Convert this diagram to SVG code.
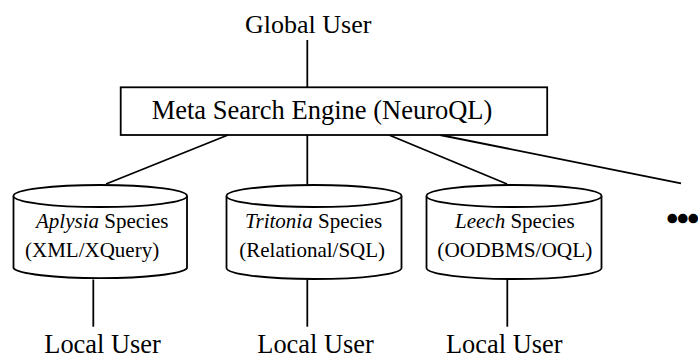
<svg xmlns="http://www.w3.org/2000/svg" width="698" height="358" viewBox="0 0 698 358">
  <style>
    .txt { font-family: "Liberation Serif", "Times New Roman", serif; fill: #000; }
    .big { font-size: 26px; }
    .small { font-size: 21px; }
    .it { font-style: italic; }
    .shape { fill: #fff; stroke: #000; stroke-width: 1.8; }
    .wire { stroke: #000; stroke-width: 1.8; fill: none; }
  </style>
  <rect width="698" height="358" fill="#fff"/>

  <!-- connectors -->
  <g id="connectors" class="wire">
    <line x1="307.3" y1="40" x2="307.3" y2="87.3"/>
    <line x1="228" y1="135" x2="106" y2="184"/>
    <line x1="307.3" y1="135" x2="307.3" y2="184.5"/>
    <line x1="389" y1="135" x2="507" y2="184"/>
    <line x1="440" y1="135" x2="681" y2="183.3"/>
    <line x1="93.3" y1="279.5" x2="93.3" y2="326.7"/>
    <line x1="307.3" y1="279.5" x2="307.3" y2="326.7"/>
    <line x1="507.3" y1="279.5" x2="507.3" y2="326.7"/>
  </g>

  <g id="global-user">
    <text class="txt big" x="245" y="33.3">Global User</text>
  </g>

  <g id="meta-search-engine">
    <rect class="shape" x="120.7" y="87.3" width="426.5" height="47.7"/>
    <text class="txt big" x="151.7" y="119.3" style="font-size:26.5px">Meta Search Engine (NeuroQL)</text>
  </g>

  <g id="db-aplysia">
    <path class="shape" d="M13.5,196 V268 A87,11 0 0 0 187,268 V196"/>
    <ellipse class="shape" cx="100.25" cy="196" rx="86.75" ry="11"/>
    <text class="txt small" x="36" y="228.3"><tspan class="it">Aplysia</tspan> Species</text>
    <text class="txt small" x="25" y="256.5">(XML/XQuery)</text>
  </g>

  <g id="db-tritonia">
    <path class="shape" d="M226.5,196 V268 A87.5,11 0 0 0 401.5,268 V196"/>
    <ellipse class="shape" cx="314" cy="196" rx="87.5" ry="11"/>
    <text class="txt small" x="245" y="228.3"><tspan class="it">Tritonia</tspan> Species</text>
    <text class="txt small" x="239.3" y="256.5">(Relational/SQL)</text>
  </g>

  <g id="db-leech">
    <path class="shape" d="M426.5,196 V268 A87.5,11 0 0 0 601.5,268 V196"/>
    <ellipse class="shape" cx="514" cy="196" rx="87.5" ry="11"/>
    <text class="txt small" x="455" y="228.3"><tspan class="it">Leech</tspan> Species</text>
    <text class="txt small" x="437.3" y="256.5" textLength="155" lengthAdjust="spacingAndGlyphs">(OODBMS/OQL)</text>
  </g>

  <g id="more">
    <text class="txt" x="667" y="228.8" style="font-size:30px" stroke="#000" stroke-width="2.5">•••</text>
  </g>

  <g id="local-user-1">
    <text class="txt big" x="44.3" y="353.3" style="font-size:26.4px">Local User</text>
  </g>
  <g id="local-user-2">
    <text class="txt big" x="257.3" y="353.3" style="font-size:26.4px">Local User</text>
  </g>
  <g id="local-user-3">
    <text class="txt big" x="446" y="353.3" style="font-size:26.4px">Local User</text>
  </g>
</svg>
